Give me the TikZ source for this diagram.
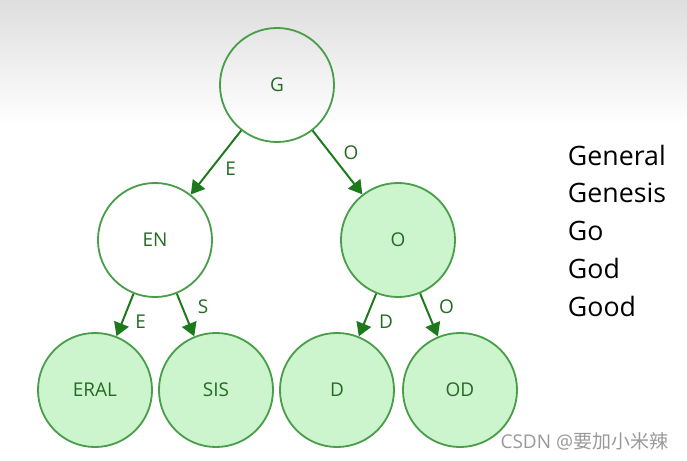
\documentclass[tikz,border=0pt]{standalone}
\usepackage{fontspec}
\setmainfont{Open Sans}
\newfontfamily\cjkfont{Noto Sans CJK SC}
\usepackage{tikz}
\usetikzlibrary{arrows.meta}
\definecolor{trieline}{HTML}{4A9E4A}
\definecolor{triefill}{HTML}{CDF5CD}
\definecolor{triearrow}{HTML}{1C7A1C}
\definecolor{trietext}{HTML}{236B23}
\definecolor{bgtop}{HTML}{DEDEDE}
\definecolor{marktext}{HTML}{9A9A9A}

\begin{document}
\begin{tikzpicture}[x=0.025cm,y=-0.025cm,
			trienode/.style={circle,draw=trieline,line width=1.3pt,minimum size=2.85cm,inner sep=0pt,
				text=trietext,font=\fontsize{13.5}{15}\selectfont},
			leaf/.style={trienode,fill=triefill},
			edge/.style={-{Triangle[length=9.5pt,width=11pt]},draw=triearrow,fill=triearrow,line width=1.4pt},
			edgelabel/.style={text=trietext,font=\fontsize{13.5}{15}\selectfont,xshift=15pt},
			word/.style={anchor=west,font=\fontsize{19}{22}\selectfont},
			]
			% 背景
			\useasboundingbox (0,0) rectangle (687,461);
			\fill[white] (0,0) rectangle (687,461);
			\shade[top color=bgtop,bottom color=white] (0,0) rectangle (687,125);
			
			% 结点
			\node[trienode] (G) at (277,85) {G};
			\node[trienode,fill=white] (EN) at (155,240) {EN};
			\node[leaf] (O) at (398,240) {O};
			\node[leaf] (ERAL) at (95,390) {ERAL};
			\node[leaf] (SIS) at (216,390) {SIS};
			\node[leaf] (D) at (337,390) {D};
			\node[leaf] (OD) at (460,390) {OD};
			
			% 边
			\draw[edge] (G) -- (EN) node[edgelabel,pos=0.6,xshift=-1pt] (eE) {E};
			\draw[edge] (G) -- (O) node[edgelabel,pos=0.35] (eO) {O};
			\draw[edge] (EN) -- (ERAL) node[edgelabel,pos=0.65,xshift=-2pt] (eEE) {E};
			\draw[edge] (EN) -- (SIS) node[edgelabel,pos=0.3] (eS) {S};
			\draw[edge] (O) -- (D) node[edgelabel,pos=0.65] (eD) {D};
			\draw[edge] (O) -- (OD) node[edgelabel,pos=0.3] (eOO) {O};
			
			% 单词表
			\node[word] (w1) at (563,155) {General};
			\node[word] (w2) at (563,192.5) {Genesis};
			\node[word] (w3) at (563,230.5) {Go};
			\node[word] (w4) at (563,268) {God};
			\node[word] (w5) at (563,306) {Good};
			
			% 水印
			\node[anchor=east,text=marktext,font=\fontsize{13.5}{15}\selectfont] (mark) at (673,441)
			{CSDN @{\cjkfont 要加小米辣}};
		\end{tikzpicture}
\end{document}
